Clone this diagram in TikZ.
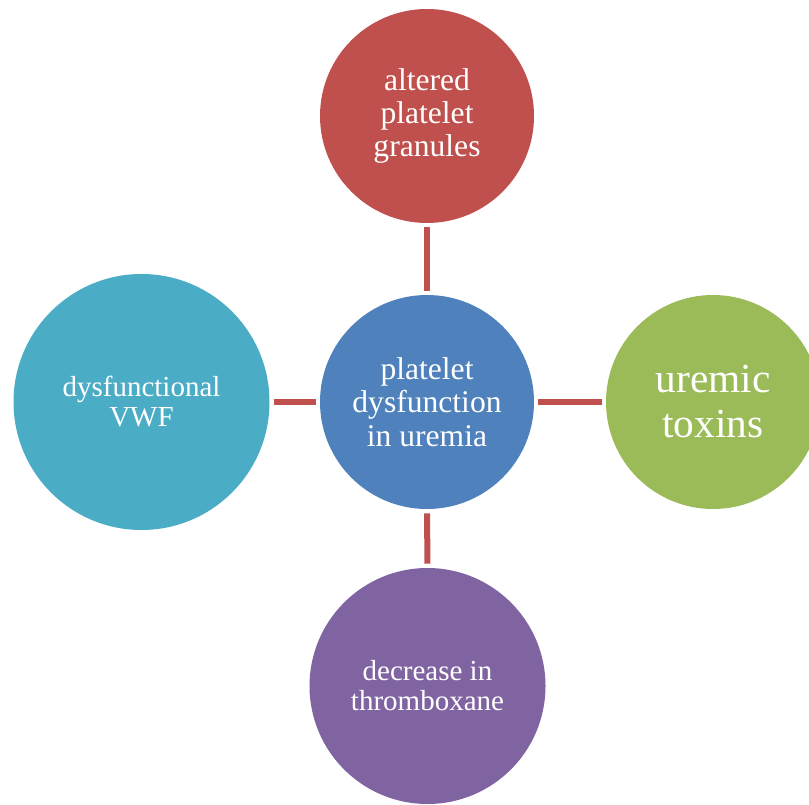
\documentclass[tikz,border=0pt]{standalone}
\usepackage{fontspec}
\setmainfont{Liberation Serif}
\definecolor{cred}{HTML}{C0504D}
\definecolor{cblue}{HTML}{4F81BD}
\definecolor{cgreen}{HTML}{9BBB59}
\definecolor{cpurple}{HTML}{8064A2}
\definecolor{cteal}{HTML}{4BACC6}
\begin{document}
\begin{tikzpicture}[x=0.75pt,y=-0.75pt,
  bub/.style={circle,inner sep=0pt,text=white,align=center},
  link/.style={draw=cred,line width=4.5pt,shorten <=3pt,shorten >=3pt}]
\path[use as bounding box] (0,0) rectangle (809,805);
\clip (0,0) rectangle (809,805);
\node[bub,fill=cblue,minimum size=160.5pt,font=\fontsize{23.7}{24.9}\selectfont] (c) at (427,402) {platelet\\dysfunction\\in uremia};
\node[bub,fill=cred,minimum size=160.5pt,font=\fontsize{23.7}{24.6}\selectfont] (t) at (427,116) {altered\\platelet\\granules};
\node[bub,fill=cteal,minimum size=192pt,font=\fontsize{21.75}{22.5}\selectfont] (l) at (141.5,402) {dysfunctional\\VWF};
\node[bub,fill=cgreen,minimum size=160.5pt,font=\fontsize{31}{33.75}\selectfont] (r) at (713,402) {uremic\\toxins};
\node[bub,fill=cpurple,minimum size=177pt,font=\fontsize{21.75}{22.5}\selectfont] (b) at (427.5,686) {decrease in\\thromboxane};
\draw[link] (t) -- (c);
\draw[link] (l) -- (c);
\draw[link] (c) -- (r);
\draw[link] (c) -- (b);
\end{tikzpicture}
\end{document}
